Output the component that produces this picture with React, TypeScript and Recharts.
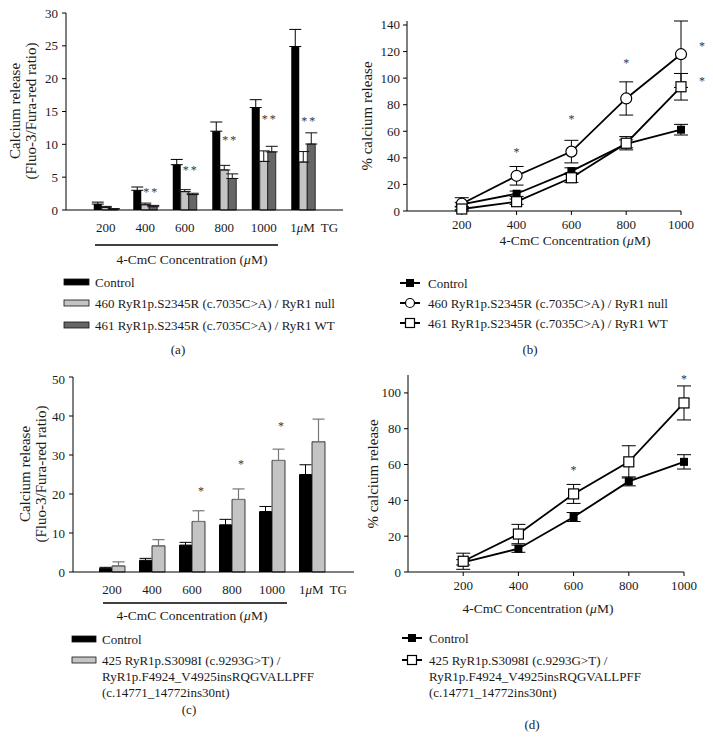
import React from 'react';
import { BarChart, Bar, LineChart, Line, XAxis, YAxis, ErrorBar, ReferenceDot } from 'recharts';

const FONT = 'Liberation Serif, Times New Roman, serif';
const INK = '#1a1a1a';
const STAR = '*';

// ---- panel (a) / (c): bar charts ----
const barCats = ['200', '400', '600', '800', '1000', 'TG'];

const aControl = [0.9, 3.0, 6.9, 12.0, 15.6, 24.9];
const aControlErr = [0.3, 0.5, 0.8, 1.4, 1.2, 2.6];
const a460 = [0.4, 0.8, 2.8, 6.1, 7.4, 7.3];
const a460Err = [0.15, 0.25, 0.3, 0.7, 1.6, 1.6];
const a461 = [0.15, 0.5, 2.35, 4.8, 8.85, 10.05];
const a461Err = [0.05, 0.2, 0.2, 0.7, 0.85, 1.7];
const aStars = [null, 3.0, 6.4, 10.9, 14.2, 13.9];

const cControl = [0.95, 3.0, 6.9, 12.1, 15.5, 25.0];
const cControlErr = [0.25, 0.5, 0.7, 1.4, 1.3, 2.5];
const c425 = [1.55, 6.7, 12.95, 18.6, 28.6, 33.4];
const c425Err = [1.05, 1.6, 2.75, 2.7, 2.9, 5.8];
const cStars = [null, null, 21.4, 28.3, 37.9, null];

// ---- panel (b) / (d): line charts ----
const conc = [200, 400, 600, 800, 1000];

const bControl = [5, 13, 30, 50.5, 61.2];
const bControlErr = [1.5, 2, 2.5, 3, 4];
const b460 = [5.5, 26.5, 44.7, 84.7, 118];
const b460Err = [4.5, 7, 8.5, 12.5, 25];
const b461 = [1.5, 7, 25, 51, 93.5];
const b461Err = [1.5, 2, 3.5, 5, 10];
const bStars = [
  { x: 400, y: 46 },
  { x: 600, y: 70.5 },
  { x: 800, y: 113 },
  { x: 1000, y: 126 },
  { x: 1000, y: 99 },
];

const dControl = [5.4, 13, 30.7, 50.6, 61.5];
const dControlErr = [1.5, 2, 2.5, 2.5, 4];
const d425 = [6, 21.2, 43.6, 61.5, 94.4];
const d425Err = [4.5, 5.4, 5.3, 9, 9.5];
const dStars = [
  { x: 600, y: 58 },
  { x: 1000, y: 109 },
];

const legendA = [
  'Control',
  '460 RyR1p.S2345R (c.7035C>A) / RyR1 null',
  '461 RyR1p.S2345R (c.7035C>A) / RyR1 WT',
];
const legendC = [
  'Control',
  '425 RyR1p.S3098I (c.9293G>T) /',
  'RyR1p.F4924_V4925insRQGVALLPFF',
  '(c.14771_14772ins30nt)',
];

const dataA = barCats.map((cat, i) => ({
  cat,
  control: aControl[i],
  controlErr: [0, aControlErr[i]],
  s460: a460[i],
  s460Err: [0, a460Err[i]],
  s461: a461[i],
  s461Err: [0, a461Err[i]],
}));

const dataC = barCats.map((cat, i) => ({
  cat,
  control: cControl[i],
  controlErr: [0, cControlErr[i]],
  s425: c425[i],
  s425Err: [0, c425Err[i]],
}));

const dataB = conc.map((x, i) => ({
  x,
  control: bControl[i],
  controlErr: bControlErr[i],
  s460: b460[i],
  s460Err: b460Err[i],
  s461: b461[i],
  s461Err: b461Err[i],
}));

const dataD = conc.map((x, i) => ({
  x,
  control: dControl[i],
  controlErr: dControlErr[i],
  s425: d425[i],
  s425Err: d425Err[i],
}));

const txt = { fontFamily: FONT } as any;
// grayscale antialiasing for the tiny significance marks
const starStyle = { fontFamily: FONT, opacity: 0.99 } as any;

const CatTick = (props: any) => {
  const { x, y, payload } = props;
  if (payload.value === 'TG') {
    return (
      <text x={x - 13} y={y + 22} fontSize={13} style={txt} fill={INK}>
        1<tspan fontStyle="italic">μ</tspan>M<tspan dx={6}>TG</tspan>
      </text>
    );
  }
  return (
    <text x={x} y={y + 22} textAnchor="middle" fontSize={13} style={txt} fill={INK}>
      {payload.value}
    </text>
  );
};

const YTick = (props: any) => (
  <text x={props.x} y={props.y + 4.5} textAnchor="end" fontSize={13} style={txt} fill={INK}>
    {props.payload.value}
  </text>
);

const XTick = (props: any) => (
  <text x={props.x} y={props.y + 9} textAnchor="middle" fontSize={13} style={txt} fill={INK}>
    {props.payload.value}
  </text>
);

const star = (dx: number) => (p: any) => (
  <text x={p.cx + dx} y={p.cy + 6} textAnchor="middle" fontSize={12} style={starStyle} fill="#333">
    {STAR}
  </text>
);

const FilledSquare = (p: any) =>
  p.cx == null ? null : <rect key={p.index} x={p.cx - 4} y={p.cy - 4} width={8} height={8} fill="#000" />;
const OpenCircle = (p: any) =>
  p.cx == null ? null : (
    <circle key={p.index} cx={p.cx} cy={p.cy} r={5.5} fill="#fff" stroke="#000" strokeWidth={1.2} />
  );
const OpenSquare = (p: any) =>
  p.cx == null ? null : (
    <rect key={p.index} x={p.cx - 5} y={p.cy - 5} width={10} height={10} fill="#fff" stroke="#000" strokeWidth={1.2} />
  );

const PanelA = () => (
  <BarChart
    width={356}
    height={240}
    data={dataA}
    margin={{ top: 13, right: 13, bottom: 10, left: 26 }}
    barCategoryGap={7.75}
    barGap={0}
  >
    <XAxis
      dataKey="cat"
      height={20}
      tickLine={false}
      tickSize={0}
      tickMargin={0}
      tick={<CatTick />}
      padding={{ left: 20, right: 20 }}
      stroke="#000"
    />
    <XAxis xAxisId="top" dataKey="cat" orientation="top" height={0} tick={false} tickLine={false} stroke="#000" />
    <YAxis
      domain={[0, 30]}
      ticks={[0, 5, 10, 15, 20, 25, 30]}
      width={40}
      tickSize={4}
      tickMargin={4}
      tick={<YTick />}
      stroke="#000"
    />
    <YAxis yAxisId="r" orientation="right" width={0} tick={false} tickLine={false} stroke="#000" />
    <Bar dataKey="control" fill="#000" isAnimationActive={false}>
      <ErrorBar dataKey="controlErr" width={6} stroke="#000" strokeWidth={1} />
    </Bar>
    <Bar dataKey="s460" fill="#c4c4c4" stroke="#111" strokeWidth={0.8} isAnimationActive={false}>
      <ErrorBar dataKey="s460Err" width={6} stroke="#111" strokeWidth={1} />
    </Bar>
    <Bar dataKey="s461" fill="#666" stroke="#111" strokeWidth={0.8} isAnimationActive={false}>
      <ErrorBar dataKey="s461Err" width={6} stroke="#111" strokeWidth={1} />
    </Bar>
    {barCats.map((c, i) =>
      aStars[i] == null ? null : (
        <React.Fragment key={c}>
          <ReferenceDot x={c} y={aStars[i] as number} r={0} ifOverflow="visible" shape={star(1)} />
          <ReferenceDot x={c} y={aStars[i] as number} r={0} ifOverflow="visible" shape={star(9)} />
        </React.Fragment>
      )
    )}
  </BarChart>
);

const PanelC = () => (
  <BarChart
    width={358}
    height={240}
    data={dataC}
    margin={{ top: 7, right: 4, bottom: 18, left: 33 }}
    barCategoryGap={7}
    barGap={0}
  >
    <XAxis
      dataKey="cat"
      height={20}
      tickLine={false}
      tickSize={0}
      tickMargin={0}
      tick={<CatTick />}
      padding={{ left: 19, right: 22 }}
      stroke="#000"
    />
    <XAxis xAxisId="top" dataKey="cat" orientation="top" height={0} tick={false} tickLine={false} stroke="#000" />
    <YAxis
      domain={[0, 50]}
      ticks={[0, 10, 20, 30, 40, 50]}
      width={40}
      tickSize={4}
      tickMargin={4}
      tick={<YTick />}
      stroke="#000"
    />
    <YAxis yAxisId="r" orientation="right" width={0} tick={false} tickLine={false} stroke="#000" />
    <Bar dataKey="control" fill="#000" isAnimationActive={false}>
      <ErrorBar dataKey="controlErr" width={6} stroke="#000" strokeWidth={1} />
    </Bar>
    <Bar dataKey="s425" fill="#c4c4c4" stroke="#111" strokeWidth={0.8} isAnimationActive={false}>
      <ErrorBar dataKey="s425Err" width={6} stroke="#777" strokeWidth={1.2} />
    </Bar>
    {barCats.map((c, i) =>
      cStars[i] == null ? null : (
        <ReferenceDot key={c} x={c} y={cStars[i] as number} r={0} ifOverflow="visible" shape={star(9)} />
      )
    )}
  </BarChart>
);

const PanelB = () => (
  <LineChart width={357} height={240} data={dataB} margin={{ top: 21, right: 32, bottom: 4, left: 11 }}>
    <XAxis
      dataKey="x"
      type="number"
      domain={[0, 1000]}
      ticks={[200, 400, 600, 800, 1000]}
      height={25}
      tickSize={4}
      tickMargin={5}
      tick={<XTick />}
      stroke="#000"
    />
    <YAxis
      domain={[0, 140]}
      ticks={[0, 20, 40, 60, 80, 100, 120, 140]}
      width={40}
      tickSize={4}
      tickMargin={3}
      tick={<YTick />}
      stroke="#000"
    />
    <Line dataKey="control" stroke="#000" strokeWidth={1.8} dot={<FilledSquare />} isAnimationActive={false}>
      <ErrorBar dataKey="controlErr" direction="y" width={7} stroke="#000" strokeWidth={1} />
    </Line>
    <Line dataKey="s460" stroke="#000" strokeWidth={1.8} dot={<OpenCircle />} isAnimationActive={false}>
      <ErrorBar dataKey="s460Err" direction="y" width={7} stroke="#000" strokeWidth={1} />
    </Line>
    <Line dataKey="s461" stroke="#000" strokeWidth={1.8} dot={<OpenSquare />} isAnimationActive={false}>
      <ErrorBar dataKey="s461Err" direction="y" width={7} stroke="#000" strokeWidth={1} />
    </Line>
    {bStars.map((s, i) => (
      <ReferenceDot key={i} x={s.x} y={s.y} r={0} ifOverflow="visible" shape={star(i >= 3 ? 21 : 0)} />
    ))}
  </LineChart>
);

const PanelD = () => (
  <LineChart width={357} height={240} data={dataD} margin={{ top: 5, right: 29, bottom: 13, left: 12 }}>
    <XAxis
      dataKey="x"
      type="number"
      domain={[0, 1000]}
      ticks={[200, 400, 600, 800, 1000]}
      height={25}
      tickSize={4}
      tickMargin={5}
      tick={<XTick />}
      stroke="#000"
    />
    <YAxis
      domain={[0, 110]}
      ticks={[0, 20, 40, 60, 80, 100]}
      width={40}
      tickSize={4}
      tickMargin={3}
      tick={<YTick />}
      stroke="#000"
    />
    <Line dataKey="control" stroke="#000" strokeWidth={1.8} dot={<FilledSquare />} isAnimationActive={false}>
      <ErrorBar dataKey="controlErr" direction="y" width={7} stroke="#000" strokeWidth={1} />
    </Line>
    <Line dataKey="s425" stroke="#000" strokeWidth={1.8} dot={<OpenSquare />} isAnimationActive={false}>
      <ErrorBar dataKey="s425Err" direction="y" width={7} stroke="#000" strokeWidth={1} />
    </Line>
    {dStars.map((s, i) => (
      <ReferenceDot key={i} x={s.x} y={s.y} r={0} ifOverflow="visible" shape={star(0)} />
    ))}
  </LineChart>
);

const T = ({ size, children, ...rest }: any) => (
  <text fontSize={size || 13} style={txt} fill={INK} {...rest}>
    {children}
  </text>
);

const AxisTitle = ({ x, y }: { x: number; y: number }) => (
  <T x={x} y={y + 4.5} textAnchor="middle" size={13.5}>
    4-CmC Concentration (<tspan fontStyle="italic">μ</tspan>M)
  </T>
);

const RotLabel = ({ x, y, children }: any) => (
  <text
    x={x}
    y={y}
    transform={`rotate(-90, ${x}, ${y})`}
    textAnchor="middle"
    dominantBaseline="central"
    style={txt}
    fontSize={15}
    fill={INK}
  >
    {children}
  </text>
);

const LineKey = ({ x, y, marker }: { x: number; y: number; marker: string }) => (
  <g>
    <line x1={x} x2={x + 20} y1={y} y2={y} stroke="#000" strokeWidth={2} />
    {marker === 'filled' && <rect x={x + 6} y={y - 4} width={8} height={8} fill="#000" />}
    {marker === 'circle' && <circle cx={x + 10} cy={y} r={4.5} fill="#fff" stroke="#000" strokeWidth={1.2} />}
    {marker === 'square' && <rect x={x + 5.5} y={y - 4.5} width={9} height={9} fill="#fff" stroke="#000" strokeWidth={1.2} />}
  </g>
);

const rowsA = [282, 303, 325];
const rowsB = [283, 303, 323];
const rowsC = [639, 660, 676, 692];
const rowsD = [638, 660, 676, 692];
const swatchA = ['#000', '#c4c4c4', '#666'];
const markersB = ['filled', 'circle', 'square'];

const Overlay = () => (
  <svg width={713} height={738} style={{ position: 'absolute', left: 0, top: 0, pointerEvents: 'none' }}>
    {/* (a) */}
    <RotLabel x={15} y={111}>Calcium release</RotLabel>
    <RotLabel x={31} y={111}>(Fluo-3/Fura-red ratio)</RotLabel>
    <line x1={95} x2={278} y1={245} y2={245} stroke="#000" strokeWidth={1.5} />
    <AxisTitle x={192} y={259} />
    {legendA.map((t, i) => (
      <g key={t}>
        <rect x={64} y={rowsA[i] - 3} width={25} height={6} fill={swatchA[i]} stroke="#111" strokeWidth={0.8} />
        <T x={95} y={rowsA[i] + 4.5}>{t}</T>
      </g>
    ))}
    <T x={178} y={354} textAnchor="middle">(a)</T>

    {/* (b) */}
    <RotLabel x={367} y={116}>% calcium release</RotLabel>
    <AxisTitle x={575} y={240} />
    {legendA.map((t, i) => (
      <g key={t}>
        <LineKey x={400} y={rowsB[i]} marker={markersB[i]} />
        <T x={428} y={rowsB[i] + 4.5}>{t}</T>
      </g>
    ))}
    <T x={530} y={354} textAnchor="middle">(b)</T>

    {/* (c) */}
    <RotLabel x={25} y={474}>Calcium release</RotLabel>
    <RotLabel x={41} y={474}>(Fluo-3/Fura-red ratio)</RotLabel>
    <line x1={103} x2={287} y1={603} y2={603} stroke="#000" strokeWidth={1.5} />
    <AxisTitle x={192} y={615} />
    <rect x={72} y={636} width={24} height={6} fill="#000" stroke="#111" strokeWidth={0.8} />
    <rect x={72} y={657} width={24} height={6} fill="#c4c4c4" stroke="#111" strokeWidth={0.8} />
    {legendC.map((t, i) => (
      <T key={t} x={102} y={rowsC[i] + 4.5}>{t}</T>
    ))}
    <T x={189} y={714} textAnchor="middle">(c)</T>

    {/* (d) */}
    <RotLabel x={373} y={474}>% calcium release</RotLabel>
    <AxisTitle x={538} y={608} />
    <LineKey x={402} y={rowsD[0]} marker="filled" />
    <LineKey x={402} y={rowsD[1]} marker="square" />
    {legendC.map((t, i) => (
      <T key={t} x={429} y={rowsD[i] + 4.5}>{t}</T>
    ))}
    <T x={532} y={729} textAnchor="middle">(d)</T>
  </svg>
);

export default function App() {
  return (
    <div style={{ position: 'absolute', left: 0, top: 0, width: 713, height: 738, background: '#fff', fontFamily: FONT }}>
      <div style={{ position: 'absolute', left: 0, top: 0 }}>
        <PanelA />
      </div>
      <div style={{ position: 'absolute', left: 356, top: 0 }}>
        <PanelB />
      </div>
      <div style={{ position: 'absolute', left: 0, top: 370 }}>
        <PanelC />
      </div>
      <div style={{ position: 'absolute', left: 356, top: 370 }}>
        <PanelD />
      </div>
      <Overlay />
    </div>
  );
}
